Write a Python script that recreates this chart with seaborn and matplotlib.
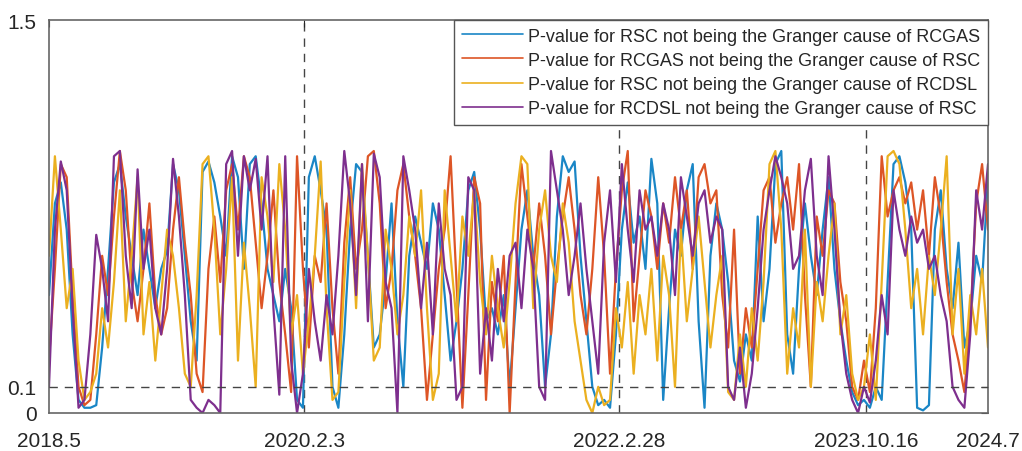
import numpy as np
import pandas as pd
import matplotlib
matplotlib.use("Agg")
import matplotlib.pyplot as plt
import seaborn as sns

tick_labels = ["2018.5", "2020.2.3", "2022.2.28", "2023.10.16", "2024.7"]
series_names = [
    "P-value for RSC not being the Granger cause of RCGAS",
    "P-value for RCGAS not being the Granger cause of RSC",
    "P-value for RSC not being the Granger cause of RCDSL",
    "P-value for RCDSL not being the Granger cause of RSC",
]

p_rsc_rcgas = [
    0.45, 0.80, 0.88, 0.70, 0.30, 0.05, 0.02, 0.02, 0.03, 0.25,
    0.55, 0.88, 0.95, 0.75, 0.60, 0.45, 0.70, 0.55, 0.40, 0.55,
    0.62, 0.95, 0.85, 0.60, 0.35, 0.20, 0.92, 0.96, 0.88, 0.75,
    0.60, 0.98, 0.90, 0.55, 0.95, 0.98, 0.80, 0.55, 0.45, 0.35,
    0.55, 0.40, 0.05, 0.02, 0.90, 0.98, 0.85, 0.70, 0.10, 0.02,
    0.30, 0.70, 0.95, 0.92, 0.60, 0.25, 0.30, 0.50, 0.80, 0.35,
    0.10, 0.60, 0.75, 0.65, 0.55, 0.80, 0.70, 0.45, 0.20, 0.35,
    0.55, 0.85, 0.92, 0.70, 0.35, 0.40, 0.30, 0.45, 0.10, 0.40,
    0.70, 0.85, 0.60, 0.45, 0.10, 0.30, 0.75, 0.98, 0.92, 0.96,
    0.60, 0.35, 0.10, 0.03, 0.05, 0.02, 0.30, 0.70, 0.88, 0.65,
    0.75, 0.55, 0.97, 0.80, 0.05, 0.40, 0.70, 0.60, 0.85, 0.95,
    0.35, 0.02, 0.60, 0.80, 0.70, 0.50, 0.20, 0.12, 0.30, 0.20,
    0.75, 0.35, 0.55, 0.95, 1.00, 0.30, 0.15, 0.55, 0.80, 0.60,
    0.45, 0.70, 0.90, 0.55, 0.35, 0.20, 0.08, 0.03, 0.05, 0.02,
    0.10, 0.05, 0.50, 0.95, 0.98, 0.88, 0.70, 0.02, 0.01, 0.03,
    0.70, 0.85, 0.55, 0.40, 0.65, 0.25, 0.35, 0.60, 0.50, 0.90,
]
p_rcgas_rsc = [
    0.20, 0.55, 0.95, 0.90, 0.45, 0.10, 0.03, 0.05, 0.30, 0.60,
    0.45, 0.75, 1.00, 0.85, 0.50, 0.35, 0.55, 0.80, 0.45, 0.30,
    0.40, 0.70, 0.90, 0.65, 0.45, 0.15, 0.08, 0.55, 0.75, 0.50,
    0.85, 0.95, 0.70, 0.98, 0.90, 0.65, 0.40, 0.60, 0.85, 0.50,
    0.30, 0.08, 0.98, 0.55, 0.25, 0.60, 0.50, 0.80, 0.40, 0.15,
    0.65, 0.90, 0.55, 0.70, 0.98, 1.00, 0.80, 0.40, 0.55, 0.85,
    0.95, 0.75, 0.60, 0.40, 0.05, 0.30, 0.55, 0.70, 0.98, 0.50,
    0.02, 0.45, 0.90, 0.80, 0.05, 0.50, 0.35, 0.60, 0.00, 0.50,
    0.95, 0.75, 0.55, 0.80, 0.60, 0.30, 0.55, 0.75, 0.90, 0.70,
    0.45, 0.30, 0.55, 0.90, 0.60, 0.15, 0.55, 0.85, 1.00, 0.35,
    0.60, 0.85, 0.75, 0.55, 0.80, 0.65, 0.90, 0.70, 0.85, 0.55,
    0.90, 0.95, 0.80, 0.85, 0.45, 0.25, 0.70, 0.15, 0.40, 0.25,
    0.55, 0.85, 0.90, 0.65, 0.80, 0.90, 0.70, 0.95, 0.45, 0.10,
    0.75, 0.60, 0.85, 0.80, 0.50, 0.35, 0.10, 0.05, 0.20, 0.08,
    0.40, 0.98, 0.75, 0.85, 0.90, 0.80, 0.88, 0.70, 0.85, 0.60,
    0.90, 0.75, 0.50, 0.30, 0.20, 0.08, 0.35, 0.80, 0.95, 0.70,
]
p_rsc_rcdsl = [
    0.60, 0.98, 0.70, 0.40, 0.55, 0.20, 0.05, 0.08, 0.15, 0.40,
    0.25, 0.50, 0.85, 0.35, 0.60, 0.90, 0.30, 0.50, 0.20, 0.45,
    0.70, 0.60, 0.40, 0.15, 0.10, 0.45, 0.95, 0.98, 0.70, 0.30,
    0.55, 0.90, 0.20, 0.65, 0.40, 0.10, 0.90, 0.75, 0.50, 0.95,
    0.70, 0.30, 0.45, 0.15, 0.35, 0.60, 0.96, 0.40, 0.05, 0.08,
    0.50, 0.85, 0.40, 0.95, 0.60, 0.20, 0.25, 0.70, 0.55, 0.30,
    0.45, 0.75, 0.60, 0.85, 0.40, 0.05, 0.15, 0.85, 0.60, 0.35,
    0.75, 0.60, 0.85, 0.50, 0.30, 0.60, 0.40, 0.25, 0.50, 0.80,
    0.98, 0.95, 0.40, 0.70, 0.85, 0.60, 0.50, 0.80, 0.65, 0.35,
    0.20, 0.05, 0.00, 0.10, 0.03, 0.05, 0.40, 0.25, 0.50, 0.15,
    0.45, 0.30, 0.55, 0.20, 0.60, 0.45, 0.10, 0.70, 0.35, 0.55,
    0.75, 0.50, 0.25, 0.45, 0.60, 0.08, 0.05, 0.30, 0.10, 0.40,
    0.20, 0.50, 0.95, 1.00, 0.70, 0.15, 0.40, 0.25, 0.70, 0.10,
    0.50, 0.35, 0.60, 0.80, 0.30, 0.45, 0.15, 0.05, 0.10, 0.30,
    0.05, 0.50, 0.98, 1.00, 0.95, 0.70, 0.40, 0.55, 0.30, 0.60,
    0.45, 0.70, 0.98, 0.30, 0.55, 0.15, 0.45, 0.30, 0.55, 0.25,
]
p_rcdsl_rsc = [
    0.10, 0.70, 0.96, 0.85, 0.40, 0.02, 0.05, 0.30, 0.68, 0.55,
    0.35, 0.98, 1.00, 0.60, 0.40, 0.93, 0.55, 0.70, 0.40, 0.30,
    0.55, 0.97, 0.75, 0.45, 0.05, 0.02, 0.00, 0.05, 0.03, 0.00,
    0.95, 1.00, 0.60, 0.98, 0.85, 0.97, 0.70, 0.98, 0.40, 0.07,
    0.98, 0.20, 0.00, 0.15, 0.55, 0.35, 0.20, 0.45, 0.30, 0.60,
    1.00, 0.80, 0.45, 0.95, 0.35, 0.99, 0.90, 0.50, 0.40, 0.00,
    0.98, 0.85, 0.70, 0.40, 0.65, 0.30, 0.80, 0.55, 0.45, 0.05,
    0.10, 0.90, 0.85, 0.15, 0.40, 0.20, 0.55, 0.35, 0.60, 0.65,
    0.40, 0.70, 0.55, 0.10, 0.05, 1.00, 0.85, 0.70, 0.45, 0.60,
    0.80, 0.55, 0.35, 0.15, 0.65, 0.85, 0.50, 0.95, 0.70, 0.50,
    0.85, 0.70, 0.75, 0.60, 0.80, 0.70, 0.45, 0.90, 0.75, 0.60,
    0.80, 0.85, 0.65, 0.75, 0.70, 0.10, 0.05, 0.25, 0.02, 0.15,
    0.40, 0.70, 0.85, 0.98, 0.90, 0.80, 0.55, 0.60, 0.85, 0.97,
    0.60, 0.45, 0.98, 0.70, 0.35, 0.15, 0.05, 0.00, 0.10, 0.04,
    0.20, 0.45, 0.30, 0.85, 0.70, 0.60, 0.75, 0.65, 0.70, 0.55,
    0.60, 0.45, 0.35, 0.10, 0.05, 0.02, 0.30, 0.85, 0.70, 0.95,
]

# ---- build long table ----
all_series = [p_rsc_rcgas, p_rcgas_rsc, p_rsc_rcdsl, p_rcdsl_rsc]
n = len(p_rsc_rcgas)
frames = []
for name, vals in zip(series_names, all_series):
    frames.append(pd.DataFrame({"t": np.arange(len(vals)), "p": vals, "series": name}))
df = pd.concat(frames, ignore_index=True)

sns.set_style("white")
plt.rcParams["font.family"] = ["Liberation Sans", "DejaVu Sans"]

palette = ["#1a86c6", "#dd5526", "#ebb020", "#7e2f8e"]

fig = plt.figure(figsize=(10.22, 4.52), dpi=100)
ax = fig.add_axes([49 / 1022, 1 - 414 / 452, 939 / 1022, 393 / 452])

sns.lineplot(data=df, x="t", y="p", hue="series", palette=palette,
             estimator=None, sort=False, linewidth=1.6, ax=ax, legend=True)

x_max = n - 1
tick_pos = [0, 0.272 * x_max, 0.607 * x_max, 0.870 * x_max, x_max]
for xp in tick_pos[1:4]:
    ax.axvline(xp, color="#444444", lw=1.0, ls=(0, (6, 5)), zorder=0.5)
ax.axhline(0.1, color="#444444", lw=1.0, ls=(0, (6, 5)), zorder=3)

ax.set_xlim(0, x_max)
ax.set_ylim(0, 1.5)
ax.set_xticks(tick_pos)
ax.set_xticklabels(tick_labels)
ax.set_yticks([0, 0.1, 1.5])
ax.set_yticklabels(["0", "0.1", "1.5"])
ax.set_xlabel("")
ax.set_ylabel("")
ax.tick_params(direction="in", length=5, width=0.8, labelsize=15, colors="#262626",
               top=True, right=True)
ax.tick_params(axis="x", pad=13)
ax.tick_params(axis="y", pad=9)
for s in ax.spines.values():
    s.set_color("#666666")
    s.set_linewidth(1.2)

leg = ax.legend(loc="upper right", fontsize=13, frameon=True, fancybox=False,
                borderaxespad=0, handlelength=3.4, handletextpad=0.28,
                labelspacing=0.4, borderpad=0.42)
leg.get_frame().set_edgecolor("#555555")
leg.get_frame().set_linewidth(1.0)
leg.get_frame().set_alpha(1)
for h in leg.get_lines():
    h.set_linewidth(1.2)

fig.savefig("out.png", dpi=100)
